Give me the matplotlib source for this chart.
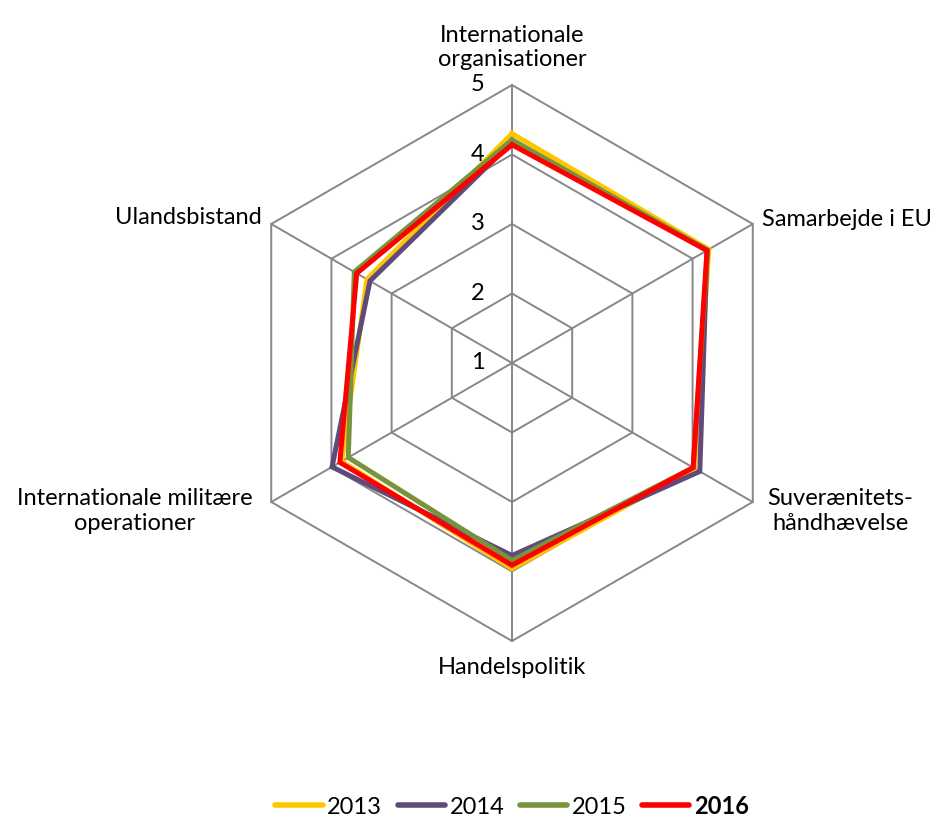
import numpy as np
import matplotlib
matplotlib.use("Agg")
import matplotlib.pyplot as plt

categories = ["Internationale\norganisationer", "Samarbejde i EU", "Suverænitets-\nhåndhævelse",
              "Handelspolitik", "Internationale militære\noperationer", "Ulandsbistand"]
years = ["2013", "2014", "2015", "2016"]
v2013 = [4.30, 4.27, 4.03, 3.96, 3.83, 3.41]
v2014 = [4.18, 4.24, 4.12, 3.77, 3.99, 3.36]
v2015 = [4.21, 4.25, 4.01, 3.84, 3.72, 3.62]
v2016 = [4.14, 4.24, 4.01, 3.91, 3.86, 3.58]
series = [v2013, v2014, v2015, v2016]
colors = ["#FFC600", "#604A7B", "#77933C", "#FF0000"]
ticks = [1, 2, 3, 4, 5]
rmin, rmax = 1, 5

n = len(categories)
ang = np.deg2rad(90 - 60 * np.arange(n))

fig = plt.figure(figsize=(9.44, 8.21), dpi=100)
ax = fig.add_axes([0, 0, 1, 1])
u = 69.5
ax.set_xlim(-512 / u, 432 / u)
ax.set_ylim(-458 / u, 363 / u)
ax.axis("off")

grid_c = "#878787"
for t in ticks[1:]:
    r = t - rmin
    xs = np.append(r * np.cos(ang), r * np.cos(ang[0]))
    ys = np.append(r * np.sin(ang), r * np.sin(ang[0]))
    ax.plot(xs, ys, color=grid_c, lw=1.4, zorder=1)
R = rmax - rmin
for a in ang:
    ax.plot([0, R * np.cos(a)], [0, R * np.sin(a)], color=grid_c, lw=1.4, zorder=1)

font = "Lato"
fs = 17
for t in ticks:
    ax.text(-34 / u, t - rmin, str(t), ha="center", va="center", fontsize=fs, family=font)

for i, (vals, c, y) in enumerate(zip(series, colors, years)):
    r = np.array(vals) - rmin
    xs = np.append(r * np.cos(ang), r[0] * np.cos(ang[0]))
    ys = np.append(r * np.sin(ang), r[0] * np.sin(ang[0]))
    ax.plot(xs, ys, color=c, lw=3.6, solid_joinstyle="miter", zorder=2 + i, label=y)

def px(x, y):
    return ((x - 512) / u, (363 - y) / u)

lab_pos = [((512, 70), "center", "bottom"),
           ((762, 220), "left", "center"),
           ((840, 511), "center", "center"),
           ((512, 657), "center", "top"),
           ((135, 511), "center", "center"),
           ((262, 218), "right", "center")]
for cat, (p, ha, va) in zip(categories, lab_pos):
    x, y = px(*p)
    ax.text(x, y, cat, ha=ha, va=va, fontsize=fs, family=font, multialignment="center",
            linespacing=1.2)

leg = fig.legend(loc="center", bbox_to_anchor=(512 / 944, 1 - 806 / 821), ncol=4, frameon=False,
                 handlelength=2.0, handletextpad=0.2, columnspacing=0.65,
                 prop={"family": font, "size": fs})
for line in leg.get_lines():
    line.set_linewidth(4)
    line.set_solid_capstyle("round")
leg.get_texts()[3].set_fontweight("bold")

fig.savefig("out.png", dpi=100)
